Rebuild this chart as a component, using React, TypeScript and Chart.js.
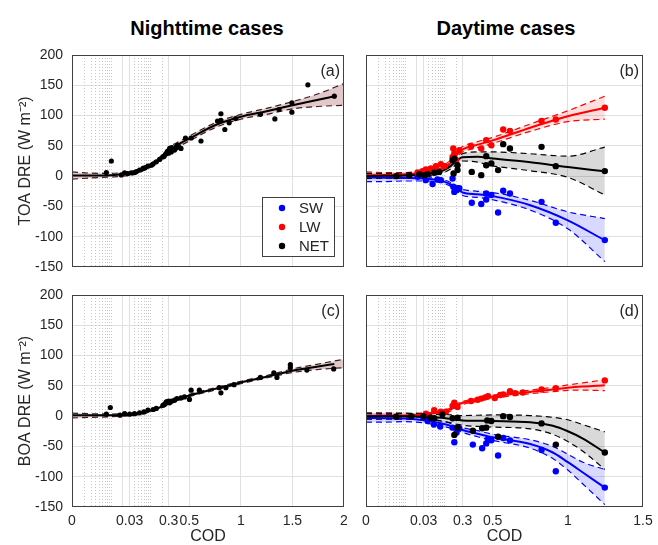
import React, { useEffect, useRef } from 'react';
import { Chart, registerables, LinearScale } from 'chart.js';

Chart.register(...registerables);

const FONT = '"Liberation Sans", Arial, Helvetica, sans-serif';
Chart.defaults.font.family = FONT;
Chart.defaults.color = '#262626';

// x axis: logarithmic below COD = 0.3, linear above
const LOG_SPLIT = 0.3;
class CodScale extends LinearScale {
  static id = 'cod';
  static defaults = {};
  _t0 = 0;
  _tr = 1;
  _k = 0.375;
  tf(v: number) {
    return v >= LOG_SPLIT ? v : LOG_SPLIT + this._k * Math.log10(Math.max(v, 1e-7) / LOG_SPLIT);
  }
  configure() {
    super.configure();
    const o: any = this.options;
    const P = o.decadePx ?? 39;
    const L = Math.abs((this as any)._length) || 1;
    const D = Math.log10(LOG_SPLIT / this.min);
    this._k = (P * (this.max - LOG_SPLIT)) / Math.max(L - P * D, 1);
    this._t0 = this.tf(this.min);
    this._tr = this.tf(this.max) - this._t0;
  }
  getPixelForValue(v: number) {
    return this.getPixelForDecimal((this.tf(v) - this._t0) / this._tr);
  }
  getValueForPixel(p: number) {
    const t = this.getDecimalForPixel(p) * this._tr + this._t0;
    return t >= LOG_SPLIT ? t : LOG_SPLIT * Math.pow(10, (t - LOG_SPLIT) / this._k);
  }
}
Chart.register(CodScale as any);

const X_TICKS_NIGHT = [0.001, 0.02, 0.03, 0.3, 0.5, 1, 1.5, 2];
const X_LABELS_NIGHT = ['0', '', '0.03', '0.3', '0.5', '1', '1.5', '2'];
const X_TICKS_DAY = [0.001, 0.02, 0.03, 0.3, 0.5, 1, 1.5];
const X_LABELS_DAY = ['0', '', '0.03', '0.3', '0.5', '1', '1.5'];
const MINOR_X = [0.002, 0.003, 0.004, 0.005, 0.006, 0.007, 0.008, 0.009, 0.01, 0.04, 0.05, 0.06, 0.07, 0.08, 0.09, 0.1, 0.2];
const Y_MIN = -150;
const Y_MAX = 200;
const Y_STEP = 50;
const PANEL_LABELS = ['(a)', '(b)', '(c)', '(d)'];
const Y_TITLES = ['TOA DRE (W m\u207B\u00B2)', 'BOA DRE (W m\u207B\u00B2)'];
const COL_TITLES = ['Nighttime cases', 'Daytime cases'];
const LEGEND_LABELS = ['SW', 'LW', 'NET'];
const LEGEND_COLORS = ['#0000ff', '#ff0000', '#000000'];

// panel (a) nighttime TOA
const A_PTS_X = [0.0076, 0.0102, 0.0184, 0.0223, 0.0271, 0.0332, 0.04, 0.045, 0.054, 0.066, 0.075, 0.0885, 0.108, 0.12, 0.145, 0.176, 0.214, 0.23, 0.25, 0.262, 0.28, 0.3, 0.31, 0.326, 0.33, 0.34, 0.358, 0.37, 0.38, 0.39, 0.4, 0.42, 0.463, 0.518, 0.614, 0.774, 0.807, 0.807, 0.845, 0.887, 0.95, 1.19, 1.33, 1.37, 1.495, 1.495, 1.65, 1.906];
const A_PTS_Y = [6, 25, 2, 5.5, 4.4, 5.5, 6, 7.5, 10, 12.7, 14, 16.5, 18, 20, 23.6, 27.6, 31.8, 33, 36, 37.5, 41, 38, 45.7, 40, 47, 44, 43, 46, 50, 51, 48, 45.7, 63, 63, 58, 91, 103, 92, 77, 88, 95, 102, 94.5, 110, 121, 105.6, 150.7, 132];
const A_FIT_X = [0.001, 0.003, 0.01, 0.02, 0.03, 0.05, 0.08, 0.1, 0.15, 0.2, 0.3, 0.4, 0.5, 0.75, 1, 1.25, 1.5, 1.75, 1.906];
const A_FIT_Y = [1, 1, 1.5, 3, 4, 8, 14, 17, 25, 31, 43, 53, 62, 84, 98, 107, 117, 126, 132];
const A_BAND_X = [0.001, 0.003, 0.01, 0.02, 0.03, 0.05, 0.08, 0.1, 0.15, 0.2, 0.3, 0.4, 0.5, 0.75, 1, 1.25, 1.5, 1.75, 2];
const A_BAND_LO = [-5, -3, -1.5, 0, 1, 5, 11, 14, 22, 28, 39, 49, 58, 80, 94, 102, 111, 115, 117];
const A_BAND_HI = [7, 5, 4.5, 6, 7, 11, 17, 20, 28, 34, 47, 57, 66, 88, 102, 112, 123, 136, 153];

// panel (c) nighttime BOA
const C_PTS_X = [0.0076, 0.0096, 0.017, 0.0223, 0.0301, 0.04, 0.054, 0.07, 0.0885, 0.12, 0.145, 0.214, 0.23, 0.25, 0.262, 0.28, 0.3, 0.31, 0.33, 0.358, 0.38, 0.42, 0.454, 0.502, 0.518, 0.598, 0.79, 0.807, 0.855, 0.935, 1.19, 1.32, 1.35, 1.48, 1.48, 1.64, 1.9];
const C_PTS_Y = [3.3, 14.3, 1.6, 4.4, 3.3, 4, 5.5, 7, 10, 11, 12.7, 18, 19, 21, 23.6, 24, 25, 22, 25, 26.4, 29, 30, 31.8, 27.6, 42.9, 42.9, 47, 38.5, 47, 52, 64, 71.5, 64, 80, 85, 76, 78];
const C_FIT_X = [0.001, 0.003, 0.01, 0.02, 0.03, 0.05, 0.08, 0.1, 0.15, 0.2, 0.3, 0.4, 0.5, 0.75, 1, 1.25, 1.5, 1.75, 1.906];
const C_FIT_Y = [1.5, 1.5, 1.5, 2, 2.5, 4, 7, 9, 12, 16, 21, 28, 34, 45, 55.6, 65, 75, 82, 86];
const C_BAND_X = [0.001, 0.003, 0.01, 0.02, 0.03, 0.05, 0.08, 0.1, 0.15, 0.2, 0.3, 0.4, 0.5, 0.75, 1, 1.25, 1.5, 1.75, 2];
const C_BAND_LO = [-3, -2, -1, 0, 0.5, 2, 5, 7, 10, 14, 19, 26, 32, 43, 53.5, 63, 72, 77, 80];
const C_BAND_HI = [5, 4, 3.5, 4, 4.5, 6, 9, 11, 14, 18, 23, 30, 36, 47, 57.5, 67, 78, 86, 94];

// panel (b) daytime TOA
const B_FIT_X = [0.001, 0.003, 0.01, 0.03, 0.06, 0.1, 0.15, 0.2, 0.25, 0.3, 0.4, 0.5, 0.75, 1, 1.246];
const B_LW_PTS_X = [0.021, 0.028, 0.0344, 0.0462, 0.062, 0.083, 0.102, 0.166, 0.173, 0.184, 0.203, 0.247, 0.356, 0.424, 0.457, 0.491, 0.57, 0.615, 0.825, 0.92, 1.246];
const B_LW_PTS_Y = [6, 8, 11, 12.7, 16.5, 19.8, 16.5, 31.8, 45.7, 37.5, 26.4, 43, 49.5, 45.7, 59.4, 51, 77, 74.8, 91, 93.5, 113];
const B_LW_FIT = [1.5, 2, 3, 6, 10, 15, 22, 33, 40, 44, 52, 59, 80, 99, 113];
const B_LW_LO = [-3, -2, -1, 2, 6, 11, 18, 29, 36, 40, 47, 54, 74, 90, 94];
const B_LW_HI = [7, 6, 6, 10, 14, 19, 27, 38, 45, 49, 57, 64, 86, 108, 132];
const B_NET_PTS_X = [0.0059, 0.0129, 0.0233, 0.0314, 0.038, 0.056, 0.0753, 0.166, 0.176, 0.184, 0.222, 0.222, 0.361, 0.424, 0.457, 0.457, 0.491, 0.536, 0.57, 0.615, 0.825, 0.92, 1.246];
const B_NET_PTS_Y = [0, 1.6, 3.3, 1.6, 3.3, 5.5, 7, 26.4, 4.4, 29, 10, 18, 7, 1.6, 33, 18, 21, 10, 52.8, 45.7, 48.4, 16.5, 8.3];
const B_NET_FIT = [0, 0.5, 1, 3, 6, 10, 17, 24, 29, 31, 32, 29, 23, 15, 8];
const B_NET_LO = [-4, -3.5, -3, -1, 2, 6, 12, 19, 24, 25, 23, 17, 9, -2, -31];
const B_NET_HI = [4, 4.5, 5, 7, 10, 14, 22, 29, 34, 37, 40, 40, 37, 33, 48];
const B_SW_PTS_X = [0.021, 0.034, 0.051, 0.068, 0.083, 0.166, 0.173, 0.184, 0.203, 0.222, 0.247, 0.361, 0.424, 0.457, 0.457, 0.491, 0.536, 0.57, 0.615, 0.825, 0.92, 1.246];
const B_SW_PTS_Y = [-1, -6.6, -13, -5.5, -6.6, -4, -17.6, -26, -23, -20, -20, -44, -46, -28.6, -38.5, -31, -60, -24, -28.6, -42.4, -77, -105.6];
const B_SW_FIT = [-2, -2.5, -3, -4, -6, -9, -14, -20, -24, -27, -30, -33, -48, -73, -106];
const B_SW_LO = [-9, -9, -8, -8, -9, -12, -17, -24, -28, -32, -35, -39, -56, -87, -141];
const B_SW_HI = [5, 4, 2, 0, -3, -6, -11, -16, -20, -22, -25, -27, -40, -59, -70];

// panel (d) daytime BOA
const D_FIT_X = [0.001, 0.003, 0.01, 0.03, 0.06, 0.1, 0.15, 0.2, 0.25, 0.3, 0.4, 0.5, 0.75, 0.9, 1, 1.1, 1.246];
const D_LW_PTS_X = [0.0344, 0.056, 0.083, 0.112, 0.166, 0.184, 0.222, 0.356, 0.4, 0.424, 0.45, 0.469, 0.514, 0.55, 0.57, 0.615, 0.65, 0.7, 0.825, 0.92, 1.246];
const D_LW_PTS_Y = [4, 9.7, 7.4, 7.4, 16.7, 22, 15, 25, 27, 29, 31, 33, 30, 35, 36, 41, 38, 39, 44, 46, 59];
const D_LW_FIT = [0, 0.5, 1, 3, 5, 8, 11, 17, 20, 22, 27, 32, 40, 44, 47, 49, 51];
const D_LW_LO = [-5, -4, -2, 0.5, 3, 5.5, 8.5, 14, 17.5, 19.5, 24.5, 29.5, 37, 40.5, 42.5, 43, 42];
const D_LW_HI = [5, 5, 4, 5.5, 7, 10.5, 13.5, 20, 22.5, 24.5, 29.5, 34.5, 43, 47.5, 51.5, 55, 60];
const D_NET_PTS_X = [0.0059, 0.0145, 0.0297, 0.044, 0.056, 0.091, 0.166, 0.184, 0.222, 0.222, 0.368, 0.43, 0.457, 0.464, 0.491, 0.536, 0.57, 0.615, 0.825, 0.92, 1.246];
const D_NET_PTS_Y = [-1, 0, 0, -2.5, -3.5, 3, -3.5, -31, -19, -2.5, -24, -20, -19, -7, -8, -34, 0, -1.5, -12, -47, -60];
const D_NET_FIT = [0, 0, 0, -1, -2, -3, -4.5, -6, -6.5, -7, -7.5, -8, -10, -16, -25, -37, -60];
const D_NET_LO = [-5, -5, -5, -6, -7, -9, -11, -13, -14, -15, -17, -18, -21, -30, -42, -58, -88];
const D_NET_HI = [5, 5, 5, 4, 3, 3, 2, 1, 1, 1, 1.5, 2, 1, -2, -6, -14, -26];
const D_SW_PTS_X = [0.0297, 0.038, 0.055, 0.08, 0.166, 0.184, 0.21, 0.247, 0.368, 0.43, 0.457, 0.469, 0.491, 0.536, 0.57, 0.615, 0.825, 0.92, 1.246];
const D_SW_PTS_Y = [-2.5, -8, -14, -17, -19, -43, -27, -20, -47, -53, -45, -38, -40, -65, -36, -40, -56, -91, -118];
const D_SW_FIT = [-3, -3.5, -4, -7, -10, -13, -16, -19, -21, -23, -29, -35, -46, -60, -76, -93, -118];
const D_SW_LO = [-10, -10, -9, -11, -14, -17, -20, -23, -25, -27, -34, -40, -53, -70, -89, -112, -146];
const D_SW_HI = [4, 3, 1, -3, -6, -9, -12, -15, -17, -19, -24, -30, -39, -50, -63, -76, -88];

const STY_NIGHT = { color: '#000000', fill: 'rgba(165,85,85,0.32)', dash: '#3a1f1f' };
const STY_SW = { color: '#0000ff', fill: 'rgba(0,0,255,0.15)', dash: '#0000ff' };
const STY_LW = { color: '#ff0000', fill: 'rgba(255,0,0,0.13)', dash: '#ff0000' };
const STY_NET = { color: '#000000', fill: 'rgba(0,0,0,0.15)', dash: '#000000' };

const zip = (xs: number[], ys: number[]) => xs.map((x, i) => ({ x, y: ys[i] }));

function seriesDatasets(s: any) {
  const common = { pointRadius: 0, cubicInterpolationMode: 'monotone' as const };
  return [
    { ...common, data: zip(s.bx, s.hi), borderColor: s.sty.dash, borderWidth: 1.2, borderDash: [6, 4], fill: false, order: 3 },
    { ...common, data: zip(s.bx, s.lo), borderColor: s.sty.dash, borderWidth: 1.2, borderDash: [6, 4], fill: '-1', backgroundColor: s.sty.fill, order: 3 },
    { ...common, data: zip(s.fx, s.fy), borderColor: s.sty.color, borderWidth: 2, fill: false, order: 2 },
    { data: zip(s.px, s.py), showLine: false, pointRadius: s.r, pointHoverRadius: s.r, pointBackgroundColor: s.sty.color, pointBorderWidth: 0, order: 1 },
  ];
}

const decoPlugin = {
  id: 'deco',
  beforeDatasetsDraw(chart: any) {
    const { ctx, chartArea: a, scales } = chart;
    const xs = scales.x;
    ctx.save();
    ctx.strokeStyle = '#c8c8c8';
    ctx.lineWidth = 1;
    ctx.setLineDash([1, 2]);
    for (const v of MINOR_X) {
      const p = Math.round(xs.getPixelForValue(v)) + 0.5;
      ctx.beginPath();
      ctx.moveTo(p, a.top);
      ctx.lineTo(p, a.bottom);
      ctx.stroke();
    }
    ctx.restore();
  },
  afterDraw(chart: any, _args: any, opts: any) {
    const { ctx, chartArea: a } = chart;
    ctx.save();
    ctx.strokeStyle = '#404040';
    ctx.lineWidth = 1;
    ctx.setLineDash([]);
    ctx.strokeRect(Math.round(a.left) + 0.5, Math.round(a.top) + 0.5, Math.round(a.right - a.left) - 1, Math.round(a.bottom - a.top) - 1);
    ctx.fillStyle = '#262626';
    ctx.font = '16px ' + FONT;
    ctx.textAlign = 'right';
    ctx.textBaseline = 'middle';
    ctx.fillText(opts.label, a.right - 4, a.top + 17);
    if (opts.legend) {
      const w = 72, h = 59;
      const lx = a.right - 10 - w, ly = a.bottom - 11 - h;
      ctx.fillStyle = '#ffffff';
      ctx.fillRect(lx, ly, w, h);
      ctx.strokeStyle = '#404040';
      ctx.strokeRect(Math.round(lx) + 0.5, Math.round(ly) + 0.5, w, h);
      ctx.font = '15px ' + FONT;
      ctx.textAlign = 'left';
      LEGEND_LABELS.forEach((t, i) => {
        const cy = ly + 11 + i * 19;
        ctx.fillStyle = LEGEND_COLORS[i];
        ctx.beginPath();
        ctx.arc(lx + 20, cy, 3.2, 0, Math.PI * 2);
        ctx.fill();
        ctx.fillStyle = '#262626';
        ctx.fillText(t, lx + 37, cy + 1);
      });
    }
    ctx.restore();
  },
};

const zeroPad = (s: any) => {
  s.paddingTop = 0;
  s.paddingBottom = 0;
  s.paddingLeft = 0;
  s.paddingRight = 0;
};

function buildConfig(p: any) {
  const datasets = p.series.flatMap(seriesDatasets);
  return {
    type: 'line',
    data: { datasets },
    plugins: [decoPlugin],
    options: {
      animation: false,
      responsive: false,
      events: [],
      layout: { autoPadding: false, padding: { left: 0, right: p.padR, top: p.padT, bottom: 0 } },
      plugins: {
        legend: { display: false },
        tooltip: { enabled: false },
        deco: { label: p.label, legend: p.legend },
      },
      scales: {
        x: {
          type: 'cod',
          min: 0.001,
          max: p.xMax,
          bounds: 'data',
          decadePx: 39,
          afterBuildTicks: (s: any) => {
            s.ticks = p.xTicks.map((v: number) => ({ value: v }));
          },
          afterFit: (s: any) => {
            s.height = p.xH;
            zeroPad(s);
          },
          ticks: {
            display: p.showX,
            autoSkip: false,
            maxRotation: 0,
            minRotation: 0,
            padding: 6,
            font: { size: 14 },
            color: '#262626',
            callback: (_v: any, i: number) => p.xLabels[i],
          },
          grid: {
            drawTicks: false,
            lineWidth: 1,
            color: (c: any) => {
              const v = c.tick ? c.tick.value : 0;
              return v === 0.001 || v === p.xMax ? 'rgba(0,0,0,0)' : '#e0e0e0';
            },
          },
          border: { display: false },
          title: { display: p.showX, text: 'COD', font: { size: 16, lineHeight: 1 }, padding: { top: 0, bottom: 0 }, color: '#262626' },
        },
        y: {
          min: Y_MIN,
          max: Y_MAX,
          afterFit: (s: any) => {
            s.width = p.yW;
            zeroPad(s);
          },
          ticks: { display: p.showY, stepSize: Y_STEP, padding: 9, font: { size: 14 }, color: '#262626' },
          grid: {
            drawTicks: false,
            lineWidth: 1,
            color: (c: any) => {
              const v = c.tick ? c.tick.value : 0;
              return v === Y_MIN || v === Y_MAX ? 'rgba(0,0,0,0)' : '#e0e0e0';
            },
          },
          border: { display: false },
          title: { display: p.showY, text: p.yTitle, font: { size: 16 }, padding: { top: 16, bottom: 0 }, color: '#262626' },
        },
      },
    },
  };
}

const PANELS = [
  {
    key: 'a', left: 0, top: 40, w: 360, h: 240, padT: 15, padR: 16, yW: 72, xH: 13,
    xMax: 2, xTicks: X_TICKS_NIGHT, xLabels: X_LABELS_NIGHT, showX: false, showY: true,
    yTitle: Y_TITLES[0], label: PANEL_LABELS[0], legend: true,
    series: [{ bx: A_BAND_X, lo: A_BAND_LO, hi: A_BAND_HI, fx: A_FIT_X, fy: A_FIT_Y, px: A_PTS_X, py: A_PTS_Y, sty: STY_NIGHT, r: 2.6 }],
  },
  {
    key: 'b', left: 360, top: 40, w: 298, h: 240, padT: 15, padR: 15, yW: 6, xH: 13,
    xMax: 1.5, xTicks: X_TICKS_DAY, xLabels: X_LABELS_DAY, showX: false, showY: false,
    yTitle: '', label: PANEL_LABELS[1], legend: false,
    series: [
      { bx: B_FIT_X, lo: B_NET_LO, hi: B_NET_HI, fx: B_FIT_X, fy: B_NET_FIT, px: B_NET_PTS_X, py: B_NET_PTS_Y, sty: STY_NET, r: 3.2 },
      { bx: B_FIT_X, lo: B_LW_LO, hi: B_LW_HI, fx: B_FIT_X, fy: B_LW_FIT, px: B_LW_PTS_X, py: B_LW_PTS_Y, sty: STY_LW, r: 3.2 },
      { bx: B_FIT_X, lo: B_SW_LO, hi: B_SW_HI, fx: B_FIT_X, fy: B_SW_FIT, px: B_SW_PTS_X, py: B_SW_PTS_Y, sty: STY_SW, r: 3.2 },
    ],
  },
  {
    key: 'c', left: 0, top: 285, w: 360, h: 260, padT: 10, padR: 16, yW: 72, xH: 38,
    xMax: 2, xTicks: X_TICKS_NIGHT, xLabels: X_LABELS_NIGHT, showX: true, showY: true,
    yTitle: Y_TITLES[1], label: PANEL_LABELS[2], legend: false,
    series: [{ bx: C_BAND_X, lo: C_BAND_LO, hi: C_BAND_HI, fx: C_FIT_X, fy: C_FIT_Y, px: C_PTS_X, py: C_PTS_Y, sty: STY_NIGHT, r: 2.6 }],
  },
  {
    key: 'd', left: 360, top: 285, w: 298, h: 260, padT: 10, padR: 15, yW: 6, xH: 38,
    xMax: 1.5, xTicks: X_TICKS_DAY, xLabels: X_LABELS_DAY, showX: true, showY: false,
    yTitle: '', label: PANEL_LABELS[3], legend: false,
    series: [
      { bx: D_FIT_X, lo: D_NET_LO, hi: D_NET_HI, fx: D_FIT_X, fy: D_NET_FIT, px: D_NET_PTS_X, py: D_NET_PTS_Y, sty: STY_NET, r: 3.2 },
      { bx: D_FIT_X, lo: D_LW_LO, hi: D_LW_HI, fx: D_FIT_X, fy: D_LW_FIT, px: D_LW_PTS_X, py: D_LW_PTS_Y, sty: STY_LW, r: 3.2 },
      { bx: D_FIT_X, lo: D_SW_LO, hi: D_SW_HI, fx: D_FIT_X, fy: D_SW_FIT, px: D_SW_PTS_X, py: D_SW_PTS_Y, sty: STY_SW, r: 3.2 },
    ],
  },
];

function Panel({ spec }: { spec: any }) {
  const ref = useRef<HTMLCanvasElement>(null);
  useEffect(() => {
    const chart = new Chart(ref.current as HTMLCanvasElement, buildConfig(spec) as any);
    return () => chart.destroy();
  }, [spec]);
  return (
    <canvas
      ref={ref}
      width={spec.w}
      height={spec.h}
      style={{ position: 'absolute', left: spec.left, top: spec.top, width: spec.w, height: spec.h }}
    />
  );
}

export default function App() {
  const titleStyle: React.CSSProperties = {
    position: 'absolute', top: 16, width: 240, textAlign: 'center', fontFamily: FONT,
    fontWeight: 'bold', fontSize: 20, lineHeight: '24px', color: '#000',
  };
  return (
    <div style={{ position: 'absolute', left: 0, top: 0, width: 658, height: 545, background: '#fff', overflow: 'hidden' }}>
      <div style={{ ...titleStyle, left: 207 - 120 }}>{COL_TITLES[0]}</div>
      <div style={{ ...titleStyle, left: 506 - 120 }}>{COL_TITLES[1]}</div>
      {PANELS.map((p) => (
        <Panel key={p.key} spec={p} />
      ))}
    </div>
  );
}
